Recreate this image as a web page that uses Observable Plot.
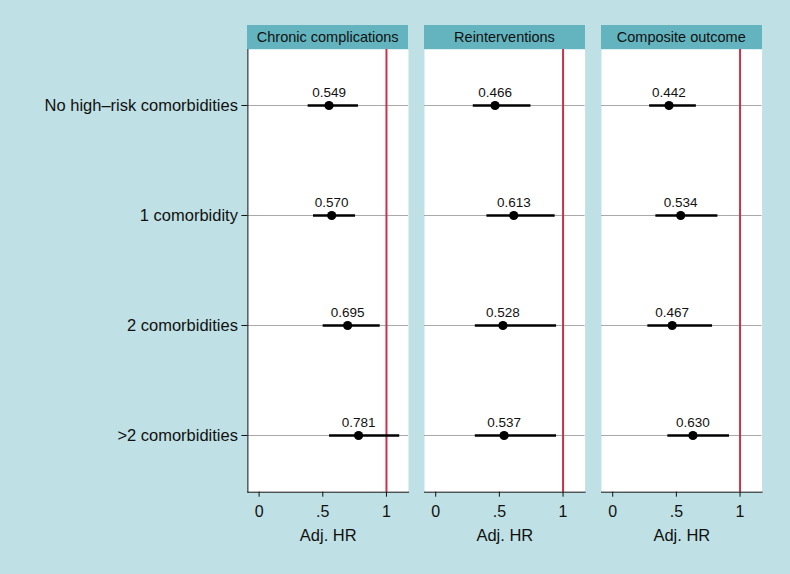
<!DOCTYPE html>
<html>
<head>
<meta charset="utf-8">
<script src="https://cdn.jsdelivr.net/npm/d3@7"></script>
<script src="https://cdn.jsdelivr.net/npm/@observablehq/plot@0.6"></script>
<style>
  html, body { margin: 0; padding: 0; }
  body { background: #bfe0e4; font-family: "Liberation Sans", Arial, Helvetica, sans-serif; }
  #wrap { position: relative; width: 790px; height: 574px; background: #bfe0e4; overflow: hidden; }
  .hdr { position: absolute; top: 25px; height: 24px; background: #63b4be; color: #111;
         font-size: 14.5px; line-height: 24px; text-align: center; white-space: nowrap; }
  .pnl { position: absolute; top: 49px; }
</style>
</head>
<body>
<div id="wrap"></div>
<script>
// ---- data ----
const categories = ["No high\u2013risk comorbidities", "1 comorbidity", "2 comorbidities", ">2 comorbidities"];
const outcomes = ["Chronic complications", "Reinterventions", "Composite outcome"];
const hrChronic = [0.549, 0.570, 0.695, 0.781];
const loChronic = [0.385, 0.427, 0.503, 0.553];
const hiChronic = [0.780, 0.757, 0.951, 1.104];
const hrReint = [0.466, 0.613, 0.528, 0.537];
const loReint = [0.295, 0.402, 0.311, 0.311];
const hiReint = [0.748, 0.938, 0.949, 0.949];
const hrComp = [0.442, 0.534, 0.467, 0.630];
const loComp = [0.290, 0.339, 0.276, 0.433];
const hiComp = [0.657, 0.826, 0.784, 0.917];
const xTicks = [0, 0.5, 1];
const xTickLabels = ["0", ".5", "1"];
const xLabel = "Adj. HR";

const series = [
  {hr: hrChronic, lo: loChronic, hi: hiChronic},
  {hr: hrReint, lo: loReint, hi: hiReint},
  {hr: hrComp, lo: loComp, hi: hiComp}
];

// ---- layout ----
const panelLefts = [247.4, 424.2, 601];
const panelW = 160.6;
const plotH = 442.7;
const marginBottom = 74;

const wrap = document.getElementById("wrap");

outcomes.forEach((name, i) => {
  const s = series[i];
  const rows = categories.map((c, j) => ({cat: c, hr: s.hr[j], lo: s.lo[j], hi: s.hi[j], label: s.hr[j].toFixed(3)}));
  const first = i === 0;
  const mLeft = first ? panelLefts[0] : 0;

  const marks = [
    Plot.frame({fill: "white", stroke: null}),
    Plot.ruleY(categories, {y: d => d, stroke: "#a8a8a8", strokeWidth: 1}),
    Plot.ruleX([1], {stroke: "#c8324a", strokeWidth: 2}),
    Plot.ruleY(rows, {y: "cat", x1: "lo", x2: "hi", stroke: "#000", strokeWidth: 2.6}),
    Plot.dot(rows, {y: "cat", x: "hr", r: 4.6, fill: "#000", stroke: null}),
    Plot.text(rows, {y: "cat", x: "hr", text: "label", dy: -12.5, fontSize: 13.5, fill: "#111"}),
    Plot.axisX({ticks: xTicks, tickFormat: (d) => xTickLabels[xTicks.indexOf(d)], tickSize: 5, tickPadding: 8, fontSize: 16, label: null}),
    Plot.frame({anchor: "bottom", stroke: "#111"}),
    Plot.text([xLabel], {frameAnchor: "bottom", text: d => d, dy: 43.5, lineAnchor: "middle", fontSize: 16.5, fill: "#111"})
  ];
  if (first) {
    marks.push(Plot.axisY({tickSize: 6, tickPadding: 4, fontSize: 16.5, label: null}));
    marks.push(Plot.frame({anchor: "left", stroke: "#111"}));
  }

  const chart = Plot.plot({
    width: mLeft + panelW,
    height: plotH + marginBottom,
    marginLeft: mLeft,
    marginRight: 0,
    marginTop: 0,
    marginBottom: marginBottom,
    style: {background: "transparent", color: "#111", fontFamily: "'Liberation Sans', Arial, sans-serif", fontSize: "14px", overflow: "visible"},
    x: {domain: [-0.088, 1.173], axis: null},
    y: {type: "point", domain: categories, padding: 0.5, axis: null},
    marks
  });
  chart.classList.add("pnl");
  chart.style.left = (first ? 0 : panelLefts[i]) + "px";
  wrap.appendChild(chart);

  const hdr = document.createElement("div");
  hdr.className = "hdr";
  hdr.style.left = panelLefts[i] + "px";
  hdr.style.width = panelW + "px";
  hdr.textContent = name;
  wrap.appendChild(hdr);
});
</script>
</body>
</html>
